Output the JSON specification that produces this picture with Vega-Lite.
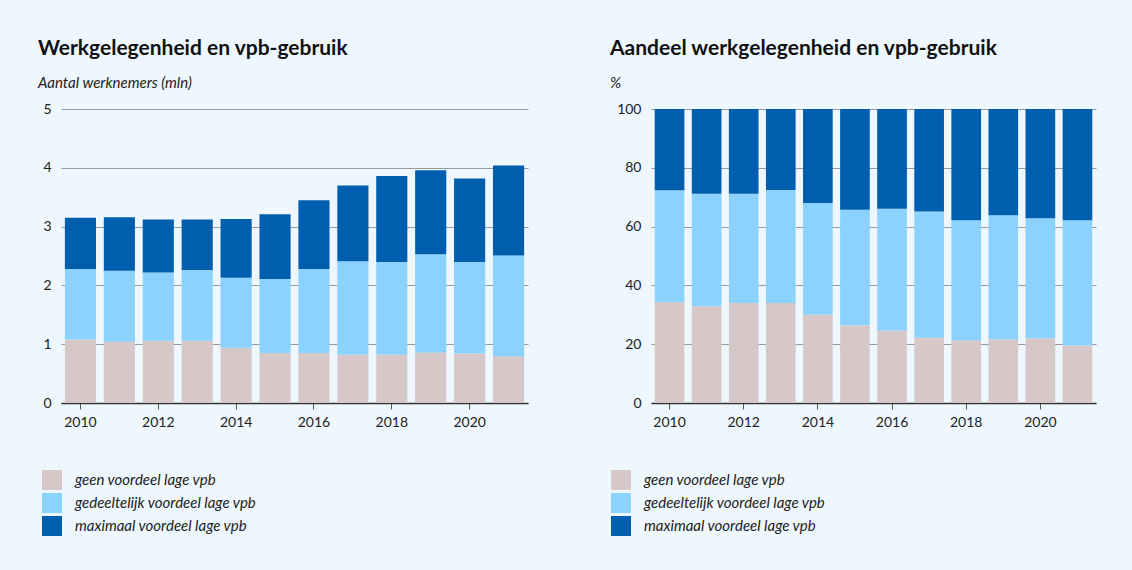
{
  "$schema": "https://vega.github.io/schema/vega-lite/v6.json",
  "background": "#EEF7FD",
  "padding": {"left": 38, "top": 38, "right": 36, "bottom": 34},
  "spacing": 82,
  "config": {
    "font": "Lato",
    "view": {"stroke": null},
    "axis": {"labelFont": "Lato", "labelFontSize": 14, "labelColor": "#222222", "gridColor": "#9a9a9a", "gridWidth": 1, "domain": false, "title": null},
    "axisX": {"domain": true, "domainColor": "#333333", "domainWidth": 1.5, "tickColor": "#555555", "tickSize": 6, "grid": false, "labelAngle": 0, "labelPadding": 6},
    "axisY": {"ticks": false, "labelPadding": 10, "grid": true},
    "title": {"anchor": "start", "frame": "group", "fontSize": 21, "fontWeight": "bold", "color": "#111111", "subtitleFontStyle": "italic", "subtitleFontSize": 15, "subtitleColor": "#222222", "subtitlePadding": 17, "offset": 11},
    "legend": {"title": null, "orient": "none", "direction": "vertical", "symbolType": "square", "symbolSize": 400, "symbolStrokeWidth": 0, "labelFontSize": 15, "labelFontStyle": "italic", "labelColor": "#222222", "labelOffset": 13, "labelLimit": 0, "rowPadding": 3, "padding": 0, "symbolOpacity": 1}
  },
  "datasets": {
    "d": [
      {"jaar": 2010, "categorie": "geen voordeel lage vpb", "waarde": 1.08},
      {"jaar": 2010, "categorie": "gedeeltelijk voordeel lage vpb", "waarde": 1.20},
      {"jaar": 2010, "categorie": "maximaal voordeel lage vpb", "waarde": 0.87},
      {"jaar": 2011, "categorie": "geen voordeel lage vpb", "waarde": 1.04},
      {"jaar": 2011, "categorie": "gedeeltelijk voordeel lage vpb", "waarde": 1.21},
      {"jaar": 2011, "categorie": "maximaal voordeel lage vpb", "waarde": 0.91},
      {"jaar": 2012, "categorie": "geen voordeel lage vpb", "waarde": 1.06},
      {"jaar": 2012, "categorie": "gedeeltelijk voordeel lage vpb", "waarde": 1.16},
      {"jaar": 2012, "categorie": "maximaal voordeel lage vpb", "waarde": 0.90},
      {"jaar": 2013, "categorie": "geen voordeel lage vpb", "waarde": 1.06},
      {"jaar": 2013, "categorie": "gedeeltelijk voordeel lage vpb", "waarde": 1.20},
      {"jaar": 2013, "categorie": "maximaal voordeel lage vpb", "waarde": 0.86},
      {"jaar": 2014, "categorie": "geen voordeel lage vpb", "waarde": 0.94},
      {"jaar": 2014, "categorie": "gedeeltelijk voordeel lage vpb", "waarde": 1.19},
      {"jaar": 2014, "categorie": "maximaal voordeel lage vpb", "waarde": 1.00},
      {"jaar": 2015, "categorie": "geen voordeel lage vpb", "waarde": 0.85},
      {"jaar": 2015, "categorie": "gedeeltelijk voordeel lage vpb", "waarde": 1.26},
      {"jaar": 2015, "categorie": "maximaal voordeel lage vpb", "waarde": 1.10},
      {"jaar": 2016, "categorie": "geen voordeel lage vpb", "waarde": 0.85},
      {"jaar": 2016, "categorie": "gedeeltelijk voordeel lage vpb", "waarde": 1.43},
      {"jaar": 2016, "categorie": "maximaal voordeel lage vpb", "waarde": 1.17},
      {"jaar": 2017, "categorie": "geen voordeel lage vpb", "waarde": 0.82},
      {"jaar": 2017, "categorie": "gedeeltelijk voordeel lage vpb", "waarde": 1.59},
      {"jaar": 2017, "categorie": "maximaal voordeel lage vpb", "waarde": 1.29},
      {"jaar": 2018, "categorie": "geen voordeel lage vpb", "waarde": 0.82},
      {"jaar": 2018, "categorie": "gedeeltelijk voordeel lage vpb", "waarde": 1.58},
      {"jaar": 2018, "categorie": "maximaal voordeel lage vpb", "waarde": 1.46},
      {"jaar": 2019, "categorie": "geen voordeel lage vpb", "waarde": 0.86},
      {"jaar": 2019, "categorie": "gedeeltelijk voordeel lage vpb", "waarde": 1.67},
      {"jaar": 2019, "categorie": "maximaal voordeel lage vpb", "waarde": 1.43},
      {"jaar": 2020, "categorie": "geen voordeel lage vpb", "waarde": 0.84},
      {"jaar": 2020, "categorie": "gedeeltelijk voordeel lage vpb", "waarde": 1.56},
      {"jaar": 2020, "categorie": "maximaal voordeel lage vpb", "waarde": 1.42},
      {"jaar": 2021, "categorie": "geen voordeel lage vpb", "waarde": 0.79},
      {"jaar": 2021, "categorie": "gedeeltelijk voordeel lage vpb", "waarde": 1.72},
      {"jaar": 2021, "categorie": "maximaal voordeel lage vpb", "waarde": 1.53}
    ]
  },
  "resolve": {"legend": {"color": "independent"}},
  "hconcat": [
    {
      "width": 467,
      "height": 294,
      "title": {"text": "Werkgelegenheid en vpb-gebruik", "subtitle": "Aantal werknemers (mln)", "dx": -23},
      "data": {"name": "d"},
      "transform": [{"calculate": "indexof(['geen voordeel lage vpb', 'gedeeltelijk voordeel lage vpb', 'maximaal voordeel lage vpb'], datum.categorie)", "as": "volgorde"}],
      "mark": {"type": "bar"},
      "encoding": {
        "x": {"field": "jaar", "type": "ordinal", "scale": {"paddingInner": 0.2, "paddingOuter": 0.1}, "axis": {"values": [2010, 2012, 2014, 2016, 2018, 2020]}},
        "y": {"field": "waarde", "type": "quantitative", "stack": "zero", "scale": {"domain": [0, 5]}, "axis": {"values": [0, 1, 2, 3, 4, 5]}},
        "order": {"field": "volgorde", "type": "quantitative", "sort": "ascending"},
        "color": {"field": "categorie", "type": "nominal",
          "sort": ["geen voordeel lage vpb", "gedeeltelijk voordeel lage vpb", "maximaal voordeel lage vpb"],
          "scale": {"domain": ["geen voordeel lage vpb", "gedeeltelijk voordeel lage vpb", "maximaal voordeel lage vpb"], "range": ["#D6C8C8", "#8CD2FE", "#005EAE"]},
          "legend": {"legendX": -19, "legendY": 361}}
      }
    },
    {
      "width": 445,
      "height": 294,
      "title": {"text": "Aandeel werkgelegenheid en vpb-gebruik", "subtitle": "%", "dx": -41},
      "data": {"name": "d"},
      "transform": [{"calculate": "indexof(['geen voordeel lage vpb', 'gedeeltelijk voordeel lage vpb', 'maximaal voordeel lage vpb'], datum.categorie)", "as": "volgorde"}],
      "mark": {"type": "bar"},
      "encoding": {
        "x": {"field": "jaar", "type": "ordinal", "scale": {"paddingInner": 0.2, "paddingOuter": 0.1}, "axis": {"values": [2010, 2012, 2014, 2016, 2018, 2020]}},
        "y": {"field": "waarde", "type": "quantitative", "stack": "normalize", "scale": {"domain": [0, 1]}, "axis": {"values": [0, 0.2, 0.4, 0.6, 0.8, 1], "labelExpr": "format(datum.value * 100, 'd')"}},
        "order": {"field": "volgorde", "type": "quantitative", "sort": "ascending"},
        "color": {"field": "categorie", "type": "nominal",
          "sort": ["geen voordeel lage vpb", "gedeeltelijk voordeel lage vpb", "maximaal voordeel lage vpb"],
          "scale": {"domain": ["geen voordeel lage vpb", "gedeeltelijk voordeel lage vpb", "maximaal voordeel lage vpb"], "range": ["#D6C8C8", "#8CD2FE", "#005EAE"]},
          "legend": {"legendX": -40, "legendY": 361}}
      }
    }
  ]
}
